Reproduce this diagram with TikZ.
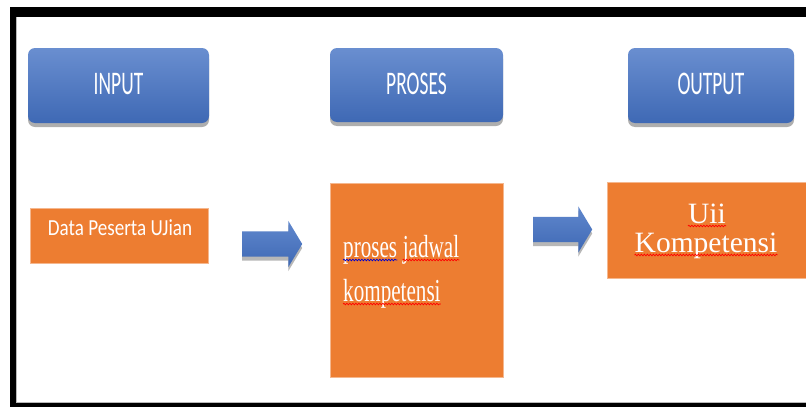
\documentclass[tikz,border=0pt]{standalone}
\usepackage{fontspec}
\usepackage{graphicx}
\usepackage{tikz}
\usetikzlibrary{positioning, shapes.arrows, shadows, decorations.pathmorphing}

\newfontfamily\btnfont{Carlito}
\newfontfamily\wordfont{Liberation Serif}
\definecolor{btnblue}{HTML}{4472C4}
\definecolor{boxorange}{HTML}{ED7D31}
\newcommand{\narrow}[2]{\scalebox{#1}[1]{#2}}

\begin{document}
\begin{tikzpicture}[x=1pt, y=-1pt,
    button/.style={rectangle, rounded corners=7pt, inner sep=0pt,
        top color=btnblue!80!white, bottom color=btnblue!92!black,
        text=white, font=\btnfont\fontsize{33}{33}\selectfont, text depth=3pt,
        drop shadow={shadow xshift=0pt, shadow yshift=-4pt, opacity=.45, fill=black!70}},
    stage/.style={rectangle, inner sep=0pt, fill=boxorange, draw=boxorange!55!white, line width=0.6pt},
    word/.style={inner sep=0pt, text=white, font=\wordfont\fontsize{32}{32}\selectfont},
    bigword/.style={word, font=\wordfont\fontsize{29.5}{29.5}\selectfont},
    flow/.style={single arrow, shape border rotate=0, single arrow head extend=10.5pt,
        single arrow tip angle=118, minimum height=60pt, inner xsep=0pt, inner ysep=12.5pt,
        text height=0pt, text depth=0pt, anchor=tail,
        top color=btnblue!85!white, bottom color=btnblue!92!black,
        drop shadow={shadow xshift=0pt, shadow yshift=-4pt, opacity=.4, fill=black!70}},
    squiggle/.style={red, line width=0.7pt, decorate,
        decoration={snake, amplitude=0.8pt, segment length=3pt}}
]
    \useasboundingbox (0,0) rectangle (806,407);
    \fill[white] (0,0) rectangle (806,407);

    % frame
    \fill[black] (10,7) rectangle (806,17);
    \fill[black] (10,7) rectangle (16,407);
    \fill[black] (10,403) rectangle (806,407);
    \draw[gray!55, line width=1pt] (16.5,17) -- (16.5,402.5) -- (806,402.5);

    % top row
    \node[button, minimum width=181pt, minimum height=75pt] (input) at (118.5,85.5) {\narrow{0.59}{INPUT}};
    \node[button, minimum width=173pt, minimum height=74pt] (proses) at (416.5,85) {\narrow{0.59}{PROSES}};
    \node[button, minimum width=166pt, minimum height=75pt] (output) at (711,85.5) {\narrow{0.59}{OUTPUT}};

    % boxes
    \node[stage, minimum width=178pt, minimum height=55pt] (data) at (119,235.5) {};
    \node[stage, minimum width=173pt, minimum height=194pt] (jadwal) at (416.5,280) {};
    \node[stage, minimum width=199pt, minimum height=96pt] (hasil) at (706.5,230) {};

    \node[anchor=base, inner sep=0pt, text=white, font=\btnfont\fontsize{23}{23}\selectfont]
        (datatext) at (120,235) {\narrow{0.83}{Data Peserta UJian}};

    \node[word, anchor=base west] (w1) at (343,257) {\narrow{0.66}{proses}};
    \node[word, anchor=base west] (w2) at ([xshift=5.3pt]w1.base east) {\narrow{0.66}{jadwal}};
    \node[word, anchor=base west] (w3) at (343,301) {\narrow{0.66}{kompetensi}};

    \node[bigword, anchor=base] (uii) at (707,223) {Uii};
    \node[bigword, anchor=base] (komp) at (706,252) {Kompetensi};

    \draw[squiggle, blue!80!black] ([yshift=-3pt]w1.base west) -- ([yshift=-3pt]w1.base east);
    \draw[squiggle] ([yshift=-3pt]w2.base west) -- ([yshift=-3pt]w2.base east);
    \draw[squiggle] ([yshift=-3pt]w3.base west) -- ([yshift=-3pt]w3.base east);
    \draw[squiggle] ([yshift=-3pt]uii.base west) -- ([yshift=-3pt]uii.base east);
    \draw[squiggle] ([yshift=-3pt]komp.base west) -- ([yshift=-3pt]komp.base east);

    % arrows
    \node[flow] (a1) at (242,244) {};
    \node[flow, minimum height=59pt] (a2) at (533,229.5) {};
\end{tikzpicture}
\end{document}
